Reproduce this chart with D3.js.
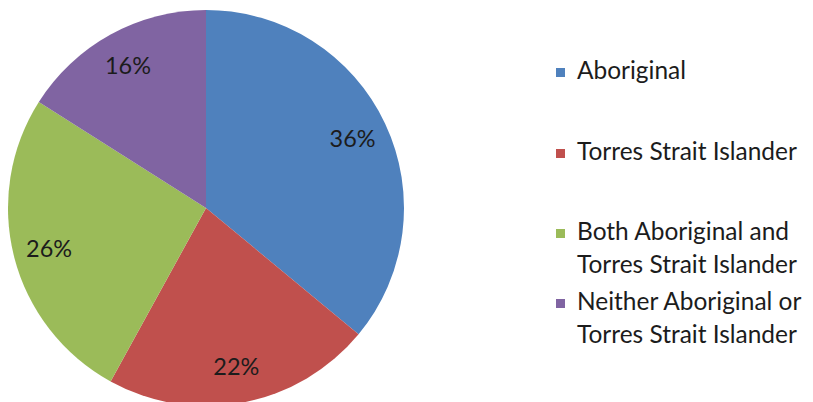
<!DOCTYPE html>
<html>
<head>
<meta charset="utf-8">
<script src="https://cdn.jsdelivr.net/npm/d3@7"></script>
<style>
  html, body { margin: 0; padding: 0; background: #fff; }
  svg { display: block; }
  text { font-family: Lato, "Open Sans", sans-serif; fill: #1c1c1c; }
</style>
</head>
<body>
<svg id="chart" width="813" height="402"></svg>
<script>
// Share of respondents by identity group
const categories = [
  ["Aboriginal"],
  ["Torres Strait Islander"],
  ["Both Aboriginal and", "Torres Strait Islander"],
  ["Neither Aboriginal or", "Torres Strait Islander"]
];
const values = [36, 22, 26, 16];
const colors = ["#4F81BD", "#C0504D", "#9BBB59", "#8064A2"];

const svg = d3.select("#chart");
const W = 813, H = 402;
const cx = 206, cy = 208, R = 198;

// Size text so that a reference string spans the given pixel width
function fitSize(str, targetWidth) {
  const t = svg.append("text").attr("font-size", 100).text(str);
  const w = t.node().getComputedTextLength();
  t.remove();
  return 100 * targetWidth / w;
}
const legendSize = fitSize("Torres Strait Islander", 220);
const labelSize = fitSize("22%", 46);

const pie = d3.pie().sort(null).value(d => d);
const arcs = pie(values);
const arc = d3.arc().innerRadius(0).outerRadius(R);
const labelArc = d3.arc().innerRadius(162).outerRadius(162);

const g = svg.append("g").attr("transform", `translate(${cx},${cy})`);
g.selectAll("path.slice")
  .data(arcs)
  .join("path")
  .attr("class", "slice")
  .attr("d", arc)
  .attr("fill", (d, i) => colors[i]);

g.selectAll("text.pct")
  .data(arcs)
  .join("text")
  .attr("class", "pct")
  .attr("transform", d => `translate(${labelArc.centroid(d)})`)
  .attr("text-anchor", "middle")
  .attr("dy", "0.35em")
  .attr("font-size", labelSize)
  .text(d => d.data + "%");

// Legend
const legendY = [79, 160, 240, 310];
const lineGap = 32.5;
const legend = svg.append("g");
categories.forEach((lines, i) => {
  const y = legendY[i];
  legend.append("rect")
    .attr("x", 556).attr("y", y - 11)
    .attr("width", 9).attr("height", 9)
    .attr("fill", colors[i]);
  const t = legend.append("text")
    .attr("x", 577).attr("y", y)
    .attr("font-size", legendSize);
  lines.forEach((ln, j) => {
    t.append("tspan").attr("x", 577).attr("y", y + j * lineGap).text(ln);
  });
});
</script>
</body>
</html>
